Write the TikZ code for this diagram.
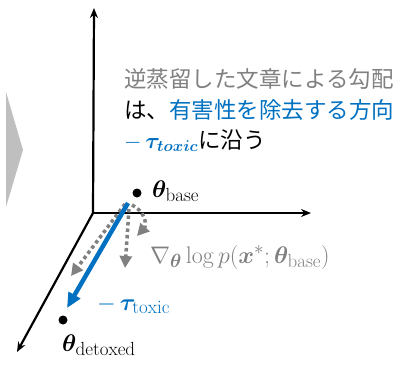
\RequirePackage{fix-cm}
\documentclass[tikz,border=0pt]{standalone}
\usepackage{amsmath,bm}
\usepackage{fontspec}
\newfontfamily\jpfont{Noto Sans CJK JP}
\usetikzlibrary{arrows.meta}
\definecolor{tblue}{RGB}{0,112,192}
\definecolor{tgray}{RGB}{128,128,128}
\definecolor{lgray}{RGB}{191,191,191}
\DeclareMathSizes{24}{24}{19}{15}

\begin{document}
\begin{tikzpicture}[x=1pt, y=-1pt, >=Stealth,
  axis/.style={line width=2.2pt, -{Stealth[length=10pt,width=8pt]}},
  dot/.style={circle, fill=black, inner sep=0pt, minimum size=9pt},
  grad/.style={tgray, line width=3.5pt, dash pattern=on 3.5pt off 3pt, -{Triangle[length=12pt,width=12pt]}},
  lbl/.style={inner sep=0pt, font=\fontsize{24}{28}\selectfont},
  jp/.style={inner sep=0pt, anchor=base west, font=\jpfont\fontsize{22.5}{31}\selectfont}]
        \useasboundingbox (0,0) rectangle (407,365);
        \path
        (93,213)  coordinate (O)
        (94,8)    coordinate (zend)
        (311,213) coordinate (xend)
        (17,352)  coordinate (yend)
        (128,203) coordinate (bstart)
        (67,308)  coordinate (bend)
        (125,204) coordinate (g1)
        (129,209) coordinate (g2)
        (132,205) coordinate (g3)
        (71,276)  coordinate (g1end)
        (125,268) coordinate (g2end)
        (137,236) coordinate (g3end)
        ;

        % arrow on the left
        \fill[lgray] (6,92) -- (23,150) -- (6,207) -- cycle;

        % axes
        \draw[axis] (O) -- (zend);
        \draw[axis] (O) -- (xend);
        \draw[axis] (O) -- (yend);

        % points
        \node[dot] (base) at (137,193) {};
        \node[dot] (detox) at (63,320) {};
        \node[lbl, anchor=base west] (baselbl) at (152,197) {$\bm{\theta}_{\mathrm{base}}$};
        \node[lbl, anchor=base west] (detoxlbl) at (62,351) {$\bm{\theta}_{\mathrm{detoxed}}$};

        % gradients
        \draw[grad] (g1) -- (g1end);
        \draw[grad] (g2) -- (g2end);
        \draw[grad] (g3) .. controls (145,211) and (147,225) .. (g3end);
        \node[lbl, anchor=base west, tgray] (gradlbl) at (150,263)
          {$\nabla_{\bm{\theta}} \log p(\bm{x}^{*};\bm{\theta}_{\mathrm{base}})$};

        % task vector
        \draw[tblue, line width=4.5pt, -{Triangle[length=15pt,width=13pt]}] (bstart) -- (bend);
        \node[lbl, anchor=base west, tblue] (taulbl) at (97,310) {$-\,\bm{\tau}_{\mathrm{toxic}}$};

        % explanation
        \node[jp, tgray] (line1) at (124,87) {逆蒸留した文章による勾配};
        \node[jp] (line2) at (124,118) {は、\textcolor{tblue}{有害性を除去する方向}};
        \node[jp] (line3) at (124,148) {\textcolor{tblue}{$-\,\bm{\tau}_{\bm{toxic}}$}に沿う};
\end{tikzpicture}
\end{document}
